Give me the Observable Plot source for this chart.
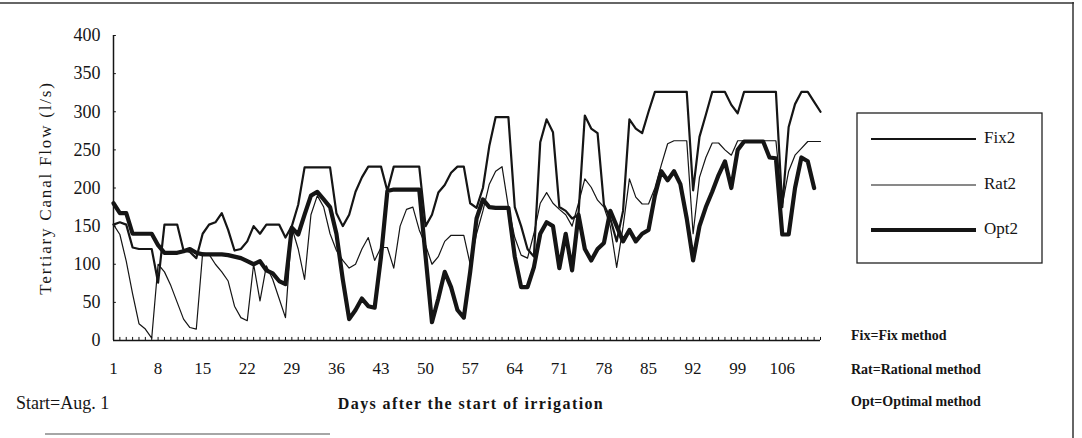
<!DOCTYPE html>
<html>
<head>
<meta charset="utf-8">
<script src="https://cdn.jsdelivr.net/npm/d3@7"></script>
<script src="https://cdn.jsdelivr.net/npm/@observablehq/plot@0.6"></script>
<style>
  body { margin: 0; background: #fff; }
  #chart { position: relative; width: 1082px; height: 438px; }
</style>
</head>
<body>
<div id="chart"></div>
<script>
// Days after the start of irrigation (start = Aug. 1)
const days = d3.range(1, 113);

// Tertiary canal flow (l/s), one value per day
const fix2 = [
  152, 155, 152, 122, 120, 120, 120, 76, 152, 152,
  152, 118, 116, 108, 140, 152, 155, 167, 145, 118,
  120, 130, 150, 140, 152, 152, 152, 135, 150, 178,
  227, 227, 227, 227, 227, 167, 150, 165, 195, 214,
  228, 228, 228, 196, 228, 228, 228, 228, 228, 150,
  165, 194, 204, 220, 228, 228, 180, 174, 200, 255,
  293, 293, 293, 175, 150, 120, 110, 260, 290, 273,
  175, 170, 160, 165, 295, 278, 272, 178, 160, 130,
  170, 290, 278, 272, 300, 326, 326, 326, 326, 326,
  326, 197, 267, 296, 326, 326, 326, 309, 298, 326,
  326, 326, 326, 326, 326, 175, 280, 310, 326, 326,
  313, 300
];
const rat2 = [
  152, 139, 104, 61, 22, 15, 3, 100, 90, 72,
  50, 28, 17, 15, 115, 113, 100, 90, 78, 45,
  30, 26, 100, 52, 98, 80, 55, 30, 148, 120,
  80, 165, 190, 175, 140, 118, 105, 95, 100, 120,
  135, 105, 122, 122, 95, 150, 172, 175, 145, 125,
  100, 110, 130, 138, 138, 138, 100, 140, 170, 205,
  222, 228, 175, 135, 112, 108, 140, 180, 194, 180,
  172, 165, 150, 180, 212, 201, 184, 175, 150, 96,
  149, 212, 188, 179, 179, 200, 230, 258, 262, 262,
  262, 140, 214, 240, 259, 259, 250, 243, 262, 262,
  262, 262, 262, 262, 262, 178, 222, 243, 252, 261,
  261, 261
];
const opt2 = [
  180, 167, 167, 140, 140, 140, 140, 125, 115, 115,
  115, 117, 120, 115, 113, 113, 113, 113, 112, 110,
  108, 104, 100, 104, 92, 88, 78, 74, 148, 139,
  165, 190, 195, 185, 175, 140, 80, 28, 40, 55,
  45, 43, 110, 196, 198, 198, 198, 198, 198, 110,
  24, 55, 90, 70, 40, 30, 90, 160, 185, 175,
  174, 174, 174, 110, 70, 70, 96, 140, 155, 150,
  95, 140, 92, 165, 120, 105, 120, 128, 170, 150,
  130, 145, 130, 140, 145, 190, 222, 210, 222, 205,
  160, 105, 150, 175, 195, 217, 235, 200, 250, 261,
  261, 261, 261, 240, 239, 139, 139, 200, 240, 235,
  200
];

const yTicks = [0, 50, 100, 150, 200, 250, 300, 350, 400];
const xTickDays = [1, 8, 15, 22, 29, 36, 43, 50, 57, 64, 71, 78, 85, 92, 99, 106];
const seriesNames = ["Fix2", "Rat2", "Opt2"];
const seriesWidths = [2.2, 1.2, 4.2];
const notes = ["Fix=Fix method", "Rat=Rational method", "Opt=Optimal method"];

const rows = (vals, name) => vals.map((v, i) => ({day: days[i], value: v, series: name}));
const ink = "#151515";
const serif = "'Liberation Serif', 'DejaVu Serif', serif";

const svg = Plot.plot({
  width: 1082,
  height: 438,
  marginLeft: 113,
  marginRight: 262,
  marginTop: 35,
  marginBottom: 98,
  style: {fontFamily: serif, fontSize: "18px", color: ink, background: "#fff"},
  x: {domain: [1, 112]},
  y: {domain: [0, 400]},
  marks: [
    Plot.axisY({ticks: yTicks, tickSize: 0, tickPadding: 13, label: null, fontSize: 18}),
    Plot.axisX({ticks: xTickDays, tickSize: 0, tickPadding: 21, label: null, fontSize: 17, tickFormat: d => String(d)}),
    // axis lines, small inward y ticks and the dotted day ticks along the x axis
    Plot.ruleX([1], {y1: 0, y2: 400, stroke: ink, strokeWidth: 1.5}),
    Plot.ruleY([0], {x1: 1, x2: 112, stroke: ink, strokeWidth: 1.5}),
    Plot.ruleY(yTicks, {x1: 1, x2: 1.45, stroke: ink, strokeWidth: 1}),
    Plot.ruleX(days, {y1: 0, y2: 4, stroke: ink, strokeWidth: 1}),
    // the three methods
    Plot.line(rows(rat2, "Rat2"), {x: "day", y: "value", stroke: ink, strokeWidth: seriesWidths[1], strokeLinejoin: "round"}),
    Plot.line(rows(fix2, "Fix2"), {x: "day", y: "value", stroke: ink, strokeWidth: seriesWidths[0], strokeLinejoin: "round"}),
    Plot.line(rows(opt2, "Opt2"), {x: "day", y: "value", stroke: ink, strokeWidth: seriesWidths[2], strokeLinejoin: "round"})
  ]
});

document.getElementById("chart").appendChild(svg);

const s = d3.select(svg);
const label = (x, y, text, size, opts = {}) =>
  s.append("text")
    .attr("x", x).attr("y", y)
    .attr("text-anchor", opts.anchor || "start")
    .attr("dominant-baseline", "middle")
    .attr("font-family", serif).attr("font-size", size)
    .attr("font-weight", opts.weight || "normal")
    .attr("letter-spacing", opts.spacing || 0)
    .attr("transform", opts.transform || null)
    .attr("fill", ink)
    .text(text);

// Outer frame of the figure
s.append("line").attr("x1", 0).attr("x2", 1074).attr("y1", 3).attr("y2", 3)
  .attr("stroke", "#333").attr("stroke-width", 1.5);
s.append("line").attr("x1", 1073).attr("x2", 1073).attr("y1", 2).attr("y2", 438)
  .attr("stroke", "#333").attr("stroke-width", 1.5);
s.append("line").attr("x1", 45).attr("x2", 330).attr("y1", 434).attr("y2", 434)
  .attr("stroke", "#888").attr("stroke-width", 1.5);

// Axis titles and start date
label(0, 0, "Tertiary Canal Flow (l/s)", 17, {anchor: "middle", spacing: 1.8, transform: "translate(47,188) rotate(-90)"});
label(16, 405, "Start=Aug. 1", 18);
label(471, 405, "Days after the start of irrigation", 16, {anchor: "middle", weight: "bold", spacing: 1.4});

// Legend
s.append("rect").attr("x", 857).attr("y", 113).attr("width", 185).attr("height", 150)
  .attr("fill", "none").attr("stroke", "#222").attr("stroke-width", 1.3);
const legendY = [139, 185, 230];
seriesNames.forEach((name, i) => {
  s.append("line").attr("x1", 871).attr("x2", 976).attr("y1", legendY[i]).attr("y2", legendY[i])
    .attr("stroke", ink).attr("stroke-width", seriesWidths[i]);
  label(984, legendY[i], name, 17);
});

// Method abbreviations
const noteY = [337, 371, 403];
notes.forEach((t, i) => label(851, noteY[i], t, 14, {weight: "bold"}));
</script>
</body>
</html>
